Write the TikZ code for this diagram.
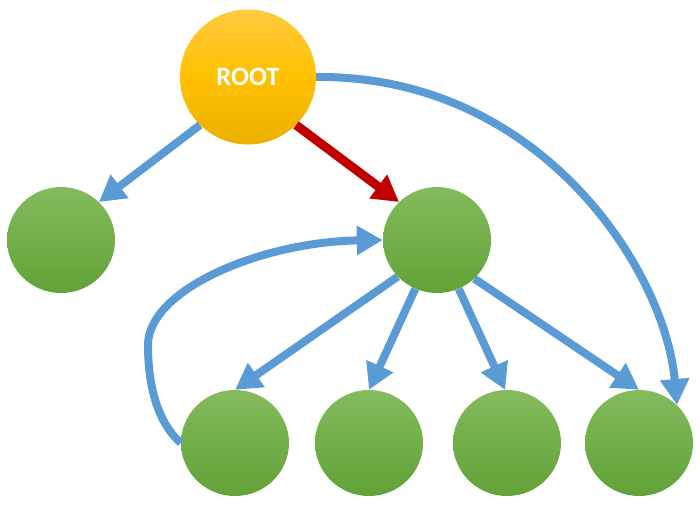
\documentclass[tikz,border=0pt]{standalone}
\usepackage{fontspec}
\newfontfamily\labelfont{Carlito}
\usetikzlibrary{shapes.geometric,arrows.meta}

\definecolor{edgeblue}{RGB}{91,155,213}
\definecolor{edgered}{RGB}{192,0,0}
\definecolor{greentop}{RGB}{132,187,94}
\definecolor{greenbot}{RGB}{98,162,54}
\definecolor{goldtop}{RGB}{255,202,64}
\definecolor{goldmid}{RGB}{255,193,0}
\definecolor{goldbot}{RGB}{236,176,0}

\tikzset{
  rootnode/.style={ellipse, minimum width=136pt, minimum height=135pt, inner sep=0pt,
    top color=goldtop, bottom color=goldbot, middle color=goldmid,
    font=\labelfont\bfseries\fontsize{26.5}{26.5}\selectfont, text=white},
  leafnode/.style={ellipse, minimum width=108pt, minimum height=106pt, inner sep=0pt,
    top color=greentop, bottom color=greenbot},
  link/.style={line width=8pt, draw=edgeblue,
    -{Triangle[length=26pt,width=28pt]}},
  mainlink/.style={link, draw=edgered, line width=9pt}
}

\begin{document}
\begin{tikzpicture}[x=1pt,y=-1pt]
  \useasboundingbox (0,0) rectangle (700,508);

  % nodes
  \node[rootnode] (root) at (248,77) {ROOT};
  \node[leafnode] (lf)  at (61,240) {};
  \node[leafnode] (mid) at (437,240) {};
  \node[leafnode] (b1)  at (235,443) {};
  \node[leafnode] (b2)  at (369,443) {};
  \node[leafnode] (b3)  at (507,443) {};
  \node[leafnode] (b4)  at (639,443) {};

  % edges from the root
  \draw[link] (root.225) -- (lf.45);
  \draw[mainlink] (root.-45) -- (mid.135);
  \draw[link] (root.east) .. controls (540,75) and (665,270) .. (b4.45);

  % edges from the middle node
  \draw[link] (mid.223) -- (b1.90);
  \draw[link] (mid.246) -- (b2.90);
  \draw[link] (mid.294) -- (b3.92);
  \draw[link] (mid.314) -- (b4.90);

  % back edge from the first leaf
  \draw[link] (b1.180) .. controls (155,420) and (148,380) .. (148,345)
                       .. controls (148,290) and (260,242) .. (mid.west);
\end{tikzpicture}
\end{document}
